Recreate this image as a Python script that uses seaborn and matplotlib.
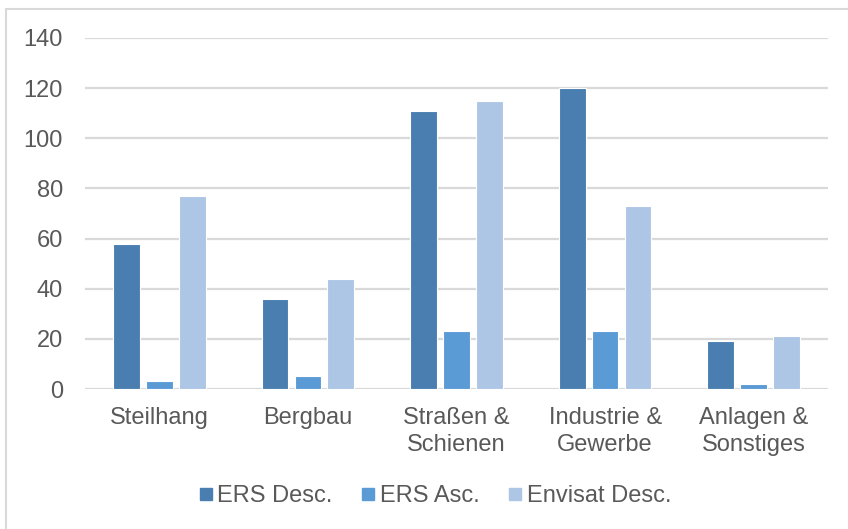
import matplotlib
matplotlib.use("Agg")
import matplotlib.pyplot as plt
from matplotlib.lines import Line2D
import seaborn as sns
import pandas as pd

categories = ["Steilhang", "Bergbau", "Straßen &\nSchienen", "Industrie &\nGewerbe", "Anlagen &\nSonstiges"]
series_names = ["ERS Desc.", "ERS Asc.", "Envisat Desc."]
ers_desc = [58, 36, 111, 120, 19]
ers_asc = [3, 5, 23, 23, 2]
envisat_desc = [77, 44, 115, 73, 21]
y_ticks = [0, 20, 40, 60, 80, 100, 120, 140]

colors = ["#4A7EB0", "#5B9BD5", "#ADC6E6"]
text_color = "#595959"
grid_color = "#D9D9D9"

rows = []
for name, vals in zip(series_names, [ers_desc, ers_asc, envisat_desc]):
    for cat, v in zip(categories, vals):
        rows.append({"Kategorie": cat, "Serie": name, "Wert": v})
df = pd.DataFrame(rows)

sns.set_theme(style="white")
plt.rcParams["font.family"] = ["Liberation Sans", "DejaVu Sans"]

fig = plt.figure(figsize=(8.48, 5.29), dpi=100)
ax = fig.add_axes([85 / 848, 1 - 389 / 529, (828 - 85) / 848, (389 - 38) / 529])

sns.barplot(data=df, x="Kategorie", y="Wert", hue="Serie",
            order=categories, hue_order=series_names, palette=colors,
            width=0.664, gap=0.19, edgecolor="white", linewidth=0.8,
            saturation=1, errorbar=None, legend=False, ax=ax, zorder=3)

ax.set_xlim(-0.5, len(categories) - 0.5)
ax.set_ylim(0, 140)
ax.set_yticks(y_ticks)
ax.set_xlabel("")
ax.set_ylabel("")
ax.yaxis.grid(True, color=grid_color, linewidth=1.6)
ax.set_axisbelow(True)
for s in ax.spines.values():
    s.set_visible(False)
ax.tick_params(axis="y", length=0, pad=16, labelsize=17, labelcolor=text_color)
ax.tick_params(axis="x", length=0, pad=13, labelsize=17, labelcolor=text_color)
for lbl in ax.get_xticklabels():
    lbl.set_linespacing(1.32)

handles = [Line2D([], [], marker="s", linestyle="none", markersize=8.6,
                  markerfacecolor=c, markeredgecolor=c) for c in colors]
fig.legend(handles, series_names, loc="center", bbox_to_anchor=(435.5 / 848, 1 - 496 / 529),
           ncol=3, frameon=False, fontsize=17, labelcolor=text_color,
           handlelength=0.5, handletextpad=0.25, columnspacing=1.25,
           borderpad=0, borderaxespad=0)

# chart frame (left and top edges)
fig.add_artist(Line2D([5.5 / 848, 5.5 / 848], [0, 1 - 8.5 / 529], transform=fig.transFigure,
                      color=grid_color, linewidth=1.5))
fig.add_artist(Line2D([5.5 / 848, 1], [1 - 8.5 / 529, 1 - 8.5 / 529], transform=fig.transFigure,
                      color=grid_color, linewidth=1.5))

fig.savefig("out.png", dpi=100, facecolor="white")
